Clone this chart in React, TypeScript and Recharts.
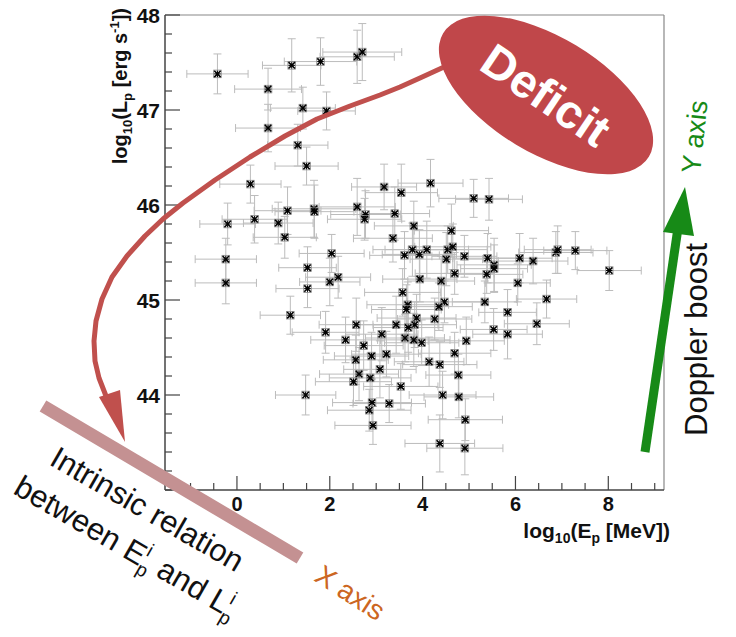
import React from 'react';
import { ScatterChart, Scatter, XAxis, YAxis, ErrorBar, ReferenceLine } from 'recharts';

const logEp = [
  -0.42, 0.67, 1.18, 1.80, 2.59, 2.70, 1.42, 1.93, 0.67, 1.31,
  1.50, 0.29, -0.20, 0.38, 0.89, 1.09, 1.66, 1.67, 1.03, 2.59,
  2.77, 2.75, 3.17, 3.40, 3.36, 3.54, 4.17, 5.10, 5.43, 3.81,
  4.62, -0.24, -0.24, 2.04, 1.52, 2.00, 2.18, 1.52, 1.15, 1.91,
  2.57, 2.34, 2.73, 3.12, 3.43, 2.90, 3.22, 2.56, 2.63, 3.08,
  2.51, 2.87, 3.53, 1.48, 2.91, 3.28, 2.85, 2.93, 3.61, 3.78,
  3.93, 4.09, 4.51, 4.54, 4.65, 4.90, 5.40, 5.54, 5.54, 5.38,
  6.09, 6.38, 6.87, 6.91, 7.29, 8.02, 3.94, 4.40, 4.69, 6.05,
  3.57, 3.68, 3.65, 4.47, 4.35, 5.34, 6.67, 5.83, 6.46, 3.87,
  4.26, 3.83, 3.69, 3.62, 3.81, 3.98, 5.53, 5.83, 4.94, 4.69,
  4.14, 4.37, 4.77, 4.43, 4.78, 4.92, 4.37, 4.91,
];

const logLp = [
  47.38, 47.22, 47.47, 47.51, 47.56, 47.61, 47.02, 46.99, 46.81, 46.63,
  46.41, 46.22, 45.80, 45.85, 45.81, 45.94, 45.96, 45.93, 45.66, 45.98,
  45.90, 45.85, 46.19, 45.91, 45.65, 46.13, 46.23, 46.07, 46.06, 45.78,
  45.73, 45.43, 45.18, 45.49, 45.34, 45.19, 45.24, 45.12, 44.84, 44.66,
  44.74, 44.58, 44.52, 44.64, 44.74, 44.41, 44.43, 44.37, 44.22, 44.27,
  44.14, 44.18, 44.09, 44.00, 43.92, 43.91, 43.84, 43.68, 45.47, 45.53,
  45.48, 45.53, 45.43, 45.53, 45.56, 45.46, 45.44, 45.37, 45.33, 45.27,
  45.44, 45.41, 45.50, 45.53, 45.52, 45.31, 45.22, 45.20, 45.28, 45.18,
  45.08, 44.95, 44.90, 44.98, 44.93, 44.98, 45.01, 44.87, 44.75, 44.81,
  44.80, 44.74, 44.71, 44.60, 44.58, 44.55, 44.69, 44.64, 44.57, 44.44,
  44.35, 44.32, 44.21, 44.00, 43.98, 43.74, 43.49, 43.44,
];

const errEp = [
  0.66, 0.72, 0.63, 0.78, 0.80, 0.85, 0.70, 0.62, 0.70, 0.65,
  0.68, 0.66, 0.60, 0.70, 0.75, 0.72, 0.90, 0.85, 0.68, 0.82,
  0.75, 0.80, 0.70, 0.75, 0.85, 0.78, 0.70, 0.75, 0.72, 0.85,
  0.80, 0.66, 0.66, 0.70, 0.62, 0.65, 0.70, 0.68, 0.65, 0.72,
  0.80, 0.75, 0.85, 0.78, 0.90, 0.80, 0.75, 0.70, 0.85, 0.78,
  0.82, 0.88, 0.80, 0.65, 0.85, 0.78, 0.90, 0.82, 0.75, 0.85,
  0.80, 0.90, 0.78, 0.85, 0.82, 0.70, 0.75, 0.80, 0.72, 0.78,
  0.70, 0.75, 0.80, 0.72, 0.68, 0.69, 0.80, 0.72, 0.85, 0.70,
  0.82, 0.88, 0.75, 0.80, 0.72, 0.70, 0.65, 0.62, 0.70, 0.85,
  0.80, 0.90, 0.75, 0.85, 0.78, 0.80, 0.72, 0.75, 0.82, 0.78,
  0.75, 0.80, 0.70, 0.72, 0.75, 0.80, 0.75, 0.82,
];

const errLp = [
  0.21, 0.22, 0.28, 0.25, 0.28, 0.30, 0.22, 0.20, 0.25, 0.22,
  0.20, 0.20, 0.22, 0.25, 0.22, 0.25, 0.30, 0.28, 0.22, 0.30,
  0.25, 0.22, 0.24, 0.28, 0.25, 0.30, 0.25, 0.20, 0.22, 0.26,
  0.28, 0.22, 0.22, 0.20, 0.22, 0.25, 0.22, 0.20, 0.20, 0.22,
  0.28, 0.24, 0.26, 0.28, 0.30, 0.25, 0.24, 0.26, 0.28, 0.30,
  0.25, 0.26, 0.24, 0.21, 0.25, 0.20, 0.22, 0.20, 0.25, 0.28,
  0.26, 0.30, 0.28, 0.25, 0.24, 0.22, 0.26, 0.28, 0.25, 0.20,
  0.26, 0.24, 0.22, 0.25, 0.20, 0.21, 0.24, 0.26, 0.22, 0.20,
  0.25, 0.24, 0.26, 0.22, 0.25, 0.22, 0.20, 0.24, 0.22, 0.25,
  0.22, 0.24, 0.26, 0.25, 0.28, 0.24, 0.22, 0.26, 0.25, 0.22,
  0.26, 0.24, 0.22, 0.25, 0.22, 0.22, 0.30, 0.28,
];

const xTicks = [-1, -0.5, 0, 0.5, 1, 1.5, 2, 2.5, 3, 3.5, 4, 4.5, 5, 5.5, 6, 6.5, 7, 7.5, 8, 8.5, 9];
const xTickLabels = [0, 2, 4, 6, 8];
const yTicks = [
  43, 43.2, 43.4, 43.6, 43.8, 44, 44.2, 44.4, 44.6, 44.8, 45, 45.2, 45.4,
  45.6, 45.8, 46, 46.2, 46.4, 46.6, 46.8, 47, 47.2, 47.4, 47.6, 47.8, 48,
];
const yTickLabels = [44, 45, 46, 47, 48];

const data = logEp.map((x, i) => ({ x, y: logLp[i], ex: errEp[i], ey: errLp[i] }));

const FONT = '"Liberation Sans", Arial, Helvetica, sans-serif';
const AXIS = '#444';

const isIn = (arr: number[], v: number) => arr.some((t) => Math.abs(t - v) < 1e-6);

const XTick = (props: any) => {
  const { x, y, payload } = props;
  const v = payload.value;
  const major = isIn(xTickLabels, v);
  return (
    <g>
      <line x1={x} x2={x} y1={y} y2={y - (major ? 14 : 7)} stroke={AXIS} strokeWidth={1.2} />
      {major && (
        <text x={x} y={y + 21} textAnchor="middle" fontFamily={FONT} fontWeight="bold" fontSize={20} fill="#111">
          {v}
        </text>
      )}
    </g>
  );
};

const YTick = (props: any) => {
  const { x, y, payload } = props;
  const v = payload.value;
  const major = isIn(yTickLabels, v);
  return (
    <g>
      <line x1={x} x2={x + (major ? 15 : 7)} y1={y} y2={y} stroke={AXIS} strokeWidth={1.2} />
      {major && (
        <text x={x - 5} y={y} dy="0.36em" textAnchor="end" fontFamily={FONT} fontWeight="bold" fontSize={21} fill="#111">
          {v}
        </text>
      )}
    </g>
  );
};

const Star = (props: any) => {
  const { cx, cy } = props;
  if (cx == null || cy == null) return <g />;
  const r = 3.2;
  return (
    <g>
      <rect x={cx - 3.8} y={cy - 3.8} width={7.6} height={7.6} fill="none" stroke="#888" strokeWidth={0.8} />
      <g stroke="#000" strokeWidth={1.6}>
        <line x1={cx - r} y1={cy - r} x2={cx + r} y2={cy + r} />
        <line x1={cx - r} y1={cy + r} x2={cx + r} y2={cy - r} />
      </g>
      <g stroke="#000" strokeWidth={1}>
        <line x1={cx} y1={cy - r} x2={cx} y2={cy + r} />
        <line x1={cx - r} y1={cy} x2={cx + r} y2={cy} />
      </g>
    </g>
  );
};

const redPath =
  'M444,67 L420,78 L400,87 L380,95 L350,106 L317,119 L285,136 L250,157 L215,180 L183,203 L163,219 L145,236 L127,256 L112,277 L102,299 L96,321 L94,341 L95,361 L99,378 L106,396';

export default function App() {
  return (
    <div style={{ position: 'absolute', left: 0, top: 0, width: 736, height: 637, background: '#fff' }}>
      <ScatterChart width={736} height={637} margin={{ top: 15, right: 72, bottom: 107, left: 0 }}>
        <XAxis
          type="number"
          dataKey="x"
          domain={[-1.55, 9.2]}
          ticks={xTicks}
          interval={0}
          tick={XTick}
          tickLine={false}
          tickSize={0}
          tickMargin={0}
          height={40}
          axisLine={{ stroke: AXIS, strokeWidth: 1.5 }}
          allowDataOverflow
        />
        <YAxis
          type="number"
          dataKey="y"
          domain={[43, 48]}
          ticks={yTicks}
          interval={0}
          tick={YTick}
          tickLine={false}
          tickSize={0}
          tickMargin={0}
          width={165}
          axisLine={{ stroke: AXIS, strokeWidth: 1.5 }}
          allowDataOverflow
        />
        <ReferenceLine y={48} stroke="#888" strokeWidth={1.2} />
        <ReferenceLine x={9.2} stroke="#888" strokeWidth={1.2} />
        <Scatter data={data} shape={Star} isAnimationActive={false}>
          <ErrorBar dataKey="ex" direction="x" width={4} stroke="#bcbcbc" strokeWidth={1} />
          <ErrorBar dataKey="ey" direction="y" width={4} stroke="#bcbcbc" strokeWidth={1} />
        </Scatter>
      </ScatterChart>
      <svg
        width={736}
        height={637}
        style={{ position: 'absolute', left: 0, top: 0, pointerEvents: 'none' }}
        fontFamily={FONT}
      >
        {/* axis titles */}
        <text x={670} y={538} textAnchor="end" fontWeight="bold" fontSize={21} fill="#111">
          log<tspan fontSize={14} dy={5}>10</tspan>
          <tspan fontSize={21} dy={-5}>(E</tspan>
          <tspan fontSize={14} dy={5}>p</tspan>
          <tspan fontSize={21} dy={-5}> [MeV])</tspan>
        </text>
        <text transform="translate(127,8) rotate(-90)" textAnchor="end" fontWeight="bold" fontSize={20} fill="#111">
          log<tspan fontSize={13} dy={5}>10</tspan>
          <tspan fontSize={20} dy={-5}>(L</tspan>
          <tspan fontSize={13} dy={5}>p</tspan>
          <tspan fontSize={20} dy={-5}> [erg s</tspan>
          <tspan fontSize={13} dy={-8}>-1</tspan>
          <tspan fontSize={20} dy={8}>])</tspan>
        </text>

        {/* intrinsic relation bar */}
        <line x1={43} y1={406} x2={300} y2={558} stroke="#c49192" strokeWidth={13} />
        <text transform="translate(48,464) rotate(30)" fontSize={31} fill="#111">
          Intrinsic relation
        </text>
        <text transform="translate(12,493) rotate(30)" fontSize={31} fill="#111">
          between E<tspan fontSize={19} dy={-13}>i</tspan>
          <tspan fontSize={19} dx={-5} dy={21}>p</tspan>
          <tspan fontSize={31} dy={-8}> and L</tspan>
          <tspan fontSize={19} dy={-13}>i</tspan>
          <tspan fontSize={19} dx={-5} dy={21}>p</tspan>
        </text>
        <text transform="translate(313,580) rotate(33)" fontSize={28} fill="#cc6622">
          X axis
        </text>

        {/* red deficit arrow */}
        <path d={redPath} fill="none" stroke="#c0504d" strokeWidth={5} strokeLinejoin="round" strokeLinecap="round" />
        <polygon points="99,397 120,390 125,442" fill="#c0504d" />
        <ellipse cx={546} cy={95} rx={120} ry={58} transform="rotate(31 546 95)" fill="#c0474a" />
        <text
          x={546}
          y={95}
          dy="0.35em"
          transform="rotate(34 546 95)"
          textAnchor="middle"
          fontWeight="bold"
          fontSize={47}
          fill="#fff"
        >
          Deficit
        </text>

        {/* green Doppler arrow */}
        <line x1={645} y1={452} x2={678} y2={228} stroke="#178a17" strokeWidth={9} />
        <polygon points="663,232 694,236 685,187" fill="#178a17" />
        <text transform="translate(700,174) rotate(-84)" fontSize={27} fill="#178a17">
          Y axis
        </text>
        <text transform="translate(707,436) rotate(-90)" fontSize={31} fill="#111">
          Doppler boost
        </text>
      </svg>
    </div>
  );
}
